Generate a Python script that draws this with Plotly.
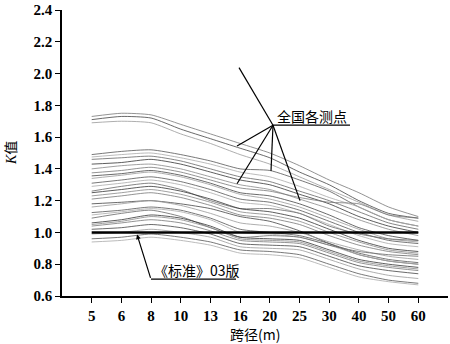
import plotly.graph_objects as go

spans = ["5", "6", "8", "10", "13", "16", "20", "25", "30", "40", "50", "60"]

top_lines = [
    [1.73, 1.75, 1.74, 1.68, 1.62, 1.56, 1.50, 1.42, 1.33, 1.25, 1.16, 1.10],
    [1.71, 1.73, 1.72, 1.65, 1.59, 1.53, 1.47, 1.38, 1.30, 1.20, 1.12, 1.09],
    [1.69, 1.70, 1.69, 1.62, 1.56, 1.49, 1.43, 1.35, 1.27, 1.19, 1.11, 1.07],
]
upper_lines = [
    [1.49, 1.51, 1.52, 1.49, 1.45, 1.40, 1.39, 1.33, 1.26, 1.16, 1.08, 1.04],
    [1.475, 1.49, 1.50, 1.47, 1.43, 1.38, 1.35, 1.29, 1.22, 1.16, 1.08, 1.04],
    [1.46, 1.47, 1.48, 1.45, 1.40, 1.35, 1.32, 1.26, 1.20, 1.13, 1.06, 1.02],
    [1.43, 1.44, 1.46, 1.43, 1.38, 1.33, 1.30, 1.24, 1.18, 1.10, 1.04, 1.00],
    [1.40, 1.42, 1.43, 1.40, 1.35, 1.30, 1.27, 1.21, 1.15, 1.08, 1.02, 0.98],
]
middle_lines = [
    [1.375, 1.39, 1.41, 1.38, 1.33, 1.28, 1.26, 1.22, 1.19, 1.18, 1.11, 1.09],
    [1.356, 1.37, 1.39, 1.36, 1.31, 1.25, 1.23, 1.18, 1.11, 1.03, 0.98, 0.95],
    [1.34, 1.36, 1.38, 1.35, 1.30, 1.24, 1.21, 1.16, 1.09, 1.02, 0.96, 0.94],
    [1.31, 1.33, 1.35, 1.32, 1.27, 1.21, 1.19, 1.14, 1.07, 1.00, 0.95, 0.93],
    [1.29, 1.31, 1.33, 1.30, 1.25, 1.19, 1.17, 1.12, 1.05, 0.98, 0.93, 0.91],
    [1.26, 1.29, 1.31, 1.27, 1.20, 1.15, 1.15, 1.12, 1.04, 0.99, 0.96, 0.95],
    [1.25, 1.27, 1.29, 1.26, 1.21, 1.15, 1.13, 1.09, 1.02, 0.95, 0.90, 0.88],
    [1.23, 1.25, 1.27, 1.24, 1.19, 1.13, 1.11, 1.07, 1.00, 0.94, 0.89, 0.87],
    [1.21, 1.23, 1.25, 1.22, 1.17, 1.11, 1.09, 1.05, 0.98, 0.92, 0.88, 0.86],
    [1.18, 1.19, 1.20, 1.18, 1.15, 1.10, 1.07, 1.01, 0.93, 0.86, 0.82, 0.80],
    [1.16, 1.18, 1.20, 1.17, 1.12, 1.06, 1.04, 1.00, 0.94, 0.89, 0.85, 0.83],
]
lower_lines = [
    [1.125, 1.14, 1.16, 1.14, 1.09, 1.02, 1.00, 0.98, 0.93, 0.87, 0.83, 0.81],
    [1.11, 1.13, 1.15, 1.13, 1.08, 1.00, 0.99, 0.97, 0.92, 0.86, 0.82, 0.80],
    [1.09, 1.12, 1.14, 1.10, 1.03, 0.97, 0.98, 0.97, 0.92, 0.88, 0.86, 0.85],
    [1.06, 1.08, 1.11, 1.09, 1.04, 0.97, 0.96, 0.95, 0.89, 0.83, 0.80, 0.78],
    [1.05, 1.07, 1.10, 1.08, 1.03, 0.96, 0.95, 0.94, 0.88, 0.82, 0.79, 0.77],
    [1.04, 1.06, 1.08, 1.06, 1.01, 0.95, 0.94, 0.93, 0.87, 0.81, 0.78, 0.76],
    [1.02, 1.03, 1.05, 1.03, 0.99, 0.93, 0.92, 0.91, 0.85, 0.79, 0.76, 0.74],
    [0.99, 1.00, 1.02, 1.00, 0.97, 0.91, 0.90, 0.89, 0.83, 0.77, 0.73, 0.71],
    [0.96, 0.97, 0.99, 0.97, 0.94, 0.89, 0.88, 0.86, 0.80, 0.74, 0.70, 0.68],
    [0.94, 0.95, 0.97, 0.95, 0.92, 0.87, 0.86, 0.84, 0.78, 0.72, 0.69, 0.67],
]
standard_03 = [1.0, 1.0, 1.0, 1.0, 1.0, 1.0, 1.0, 1.0, 1.0, 1.0, 1.0, 1.0]

y_ticks = [0.6, 0.8, 1.0, 1.2, 1.4, 1.6, 1.8, 2.0, 2.2, 2.4]

grays = ["#777777", "#444444", "#999999", "#555555", "#aaaaaa", "#666666", "#333333", "#888888"]

fig = go.Figure()
all_lines = top_lines + upper_lines + middle_lines + lower_lines
for i, vals in enumerate(all_lines):
    fig.add_trace(go.Scatter(
        x=spans, y=vals, mode="lines",
        line=dict(color=grays[i % len(grays)], width=0.8, shape="spline", smoothing=0.6),
        showlegend=False, hoverinfo="skip"))

fig.add_trace(go.Scatter(
    x=spans, y=standard_03, mode="lines",
    line=dict(color="black", width=2.5), showlegend=False, hoverinfo="skip"))

# pixel helpers for decorations (plot area: x 62..448, y 8..296)
L, R, T, B = 62, 448, 8, 296
def px(x):
    return (x - L) / (R - L)
def py(y):
    return (B - y) / (B - T)

shapes = []
apex = (273, 124)
for end in [(239, 66), (237, 145), (237, 183), (271, 170), (300, 200)]:
    shapes.append(dict(type="line", xref="paper", yref="paper",
                       x0=px(apex[0]), y0=py(apex[1]), x1=px(end[0]), y1=py(end[1]),
                       line=dict(color="#000000", width=1.2)))
shapes.append(dict(type="line", xref="paper", yref="paper",
                   x0=px(273), y0=py(124), x1=px(350), y1=py(124),
                   line=dict(color="#000000", width=1.2)))
shapes.append(dict(type="line", xref="paper", yref="paper",
                   x0=px(151), y0=py(279), x1=px(236), y1=py(279),
                   line=dict(color="#000000", width=1.2)))

cjk = "Noto Sans CJK SC"
serif = "Liberation Serif"
annotations = [
    dict(xref="paper", yref="paper", x=px(275), y=py(115), xanchor="left", yanchor="middle",
         text="全国各测点", showarrow=False, font=dict(family=cjk, size=14, color="#000000")),
    dict(xref="paper", yref="paper", x=px(152), y=py(270), xanchor="left", yanchor="middle",
         text="《标准》03版", showarrow=False, font=dict(family=cjk, size=14, color="#000000")),
    dict(xref="paper", yref="paper", x=px(137), y=py(234), text="", showarrow=True,
         axref="pixel", ayref="pixel", ax=14, ay=45, arrowhead=2, arrowsize=0.8,
         arrowwidth=1.2, arrowcolor="#000000"),
    dict(xref="paper", yref="paper", x=px(11), y=py(152), textangle=-90,
         text="<i>K</i>值", showarrow=False, xanchor="center", yanchor="middle",
         font=dict(family=serif + ", " + cjk, size=14, color="#000000")),
    dict(xref="paper", yref="paper", x=px(255), y=py(334), xanchor="center", yanchor="middle",
         text="跨径(m)", showarrow=False, font=dict(family=cjk, size=14, color="#000000")),
]

fig.update_layout(
    width=450, height=344,
    margin=dict(l=L, r=450 - R, t=T, b=344 - B),
    paper_bgcolor="white", plot_bgcolor="white",
    shapes=shapes, annotations=annotations,
    xaxis=dict(type="category", categoryorder="array", categoryarray=spans,
               range=[-1, 12], showgrid=False, zeroline=False,
               showline=True, linecolor="black", linewidth=1.5,
               ticks="outside", ticklen=5, tickwidth=1.2, tickcolor="black",
               tickfont=dict(family=serif, size=15, color="black", weight="bold")),
    yaxis=dict(range=[0.6, 2.4], tickvals=y_ticks, ticktext=[f"{v:.1f}" for v in y_ticks],
               showgrid=False, zeroline=False,
               showline=True, linecolor="black", linewidth=1.5,
               ticks="outside", ticklen=5, tickwidth=1.2, tickcolor="black",
               tickfont=dict(family=serif, size=15, color="black", weight="bold")),
)

fig.write_html("out.html")
